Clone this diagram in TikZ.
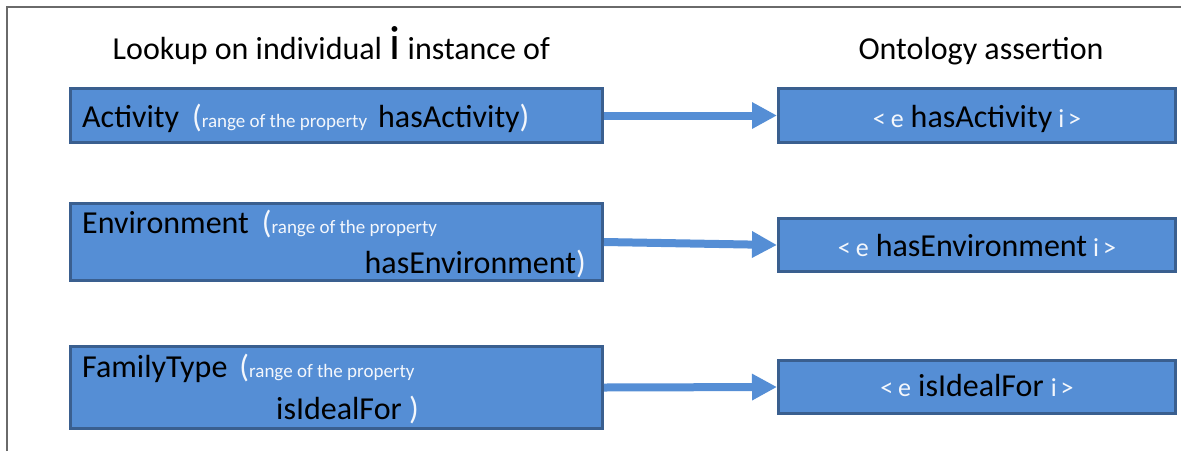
\documentclass[tikz,border=0pt]{standalone}
\usepackage{fontspec}
\setmainfont{Carlito}
\usetikzlibrary{arrows.meta}

\definecolor{boxfill}{HTML}{558ED5}
\definecolor{boxline}{HTML}{3A5F8F}
\definecolor{framegray}{HTML}{6A6A6A}
\definecolor{soft}{HTML}{F4F7FC}

% type sizes
\newcommand{\bigtxt}{\fontsize{32pt}{36pt}\selectfont}
\newcommand{\smtxt}{\fontsize{19pt}{22pt}\selectfont}
\newcommand{\midtxt}{\fontsize{26pt}{30pt}\selectfont}
\newcommand{\hugetxt}{\fontsize{48pt}{50pt}\selectfont}
\newcommand{\lparen}{{\color{soft}\bigtxt(}}
\newcommand{\rparen}{{\color{soft}\bigtxt)}}
\newcommand{\rangenote}[1]{{\color{soft}\smtxt #1}}
\newcommand{\asrtag}[1]{{\color{soft}\midtxt #1}}

\tikzset{
  box/.style={draw=boxline, fill=boxfill, line width=3pt, inner sep=0pt},
  label/.style={anchor=base west, inner sep=0pt, text=black, font=\bigtxt},
  heading/.style={anchor=base, inner sep=0pt, text=black, font=\bigtxt},
  link/.style={draw=boxfill, line width=8pt,
    -{Triangle[length=25pt, width=25pt]}},
  frame/.style={draw=framegray, line width=1.2pt}
}

\begin{document}
\begin{tikzpicture}[x=1pt, y=-1pt]
\useasboundingbox (0,0) rectangle (1181,451);

% page frame
\draw[frame] (7,451) -- (7,7) -- (1181,7);

% column headings
\node[anchor=base west, inner sep=0pt, font=\bigtxt] (hleft) at (112.5,59)
  {Lookup on individual {\hugetxt i} instance of};
\node[heading] (hright) at (981,59) {Ontology assertion};

% left column: looked-up classes
\node[box, minimum width=532pt, minimum height=54pt] (act) at (336.5,115.5) {};
\node[box, minimum width=532pt, minimum height=77pt] (env) at (336.5,242) {};
\node[box, minimum width=532pt, minimum height=82pt] (fam) at (336.5,387.5) {};

% right column: resulting assertions
\node[box, minimum width=397pt, minimum height=54pt] (aact) at (977,115.5) {};
\node[box, minimum width=397pt, minimum height=53pt] (aenv) at (977,245) {};
\node[box, minimum width=397pt, minimum height=53pt] (afam) at (977,387) {};

% arrows
\draw[link] (act.east) -- (aact.west);
\draw[link] (env.east) -- (aenv.west);
\draw[link] (fam.east) -- (afam.west);

% left box texts
\node[label] (tact) at (82,127)
  {Activity\hspace{13pt}\lparen\rangenote{range of the property}\hspace{11pt}hasActivity\rparen};
\node[label] (tenv) at (82,233)
  {Environment\hspace{13pt}\lparen\rangenote{range of the property}};
\node[label, anchor=base east] (tenv2) at (586,273) {hasEnvironment\rparen};
\node[label] (tfam) at (82,377)
  {FamilyType\hspace{12pt}\lparen\rangenote{range of the property}};
\node[label] (tfam2) at (276,419) {isIdealFor \rparen};

% right box texts
\node[heading] (taact) at (977,127)
  {\asrtag{<\hspace{5pt}e}\hspace{7pt}hasActivity\hspace{6pt}\asrtag{i\hspace{4pt}>}};
\node[heading] (taenv) at (977,256)
  {\asrtag{<\hspace{5pt}e}\hspace{7pt}hasEnvironment\hspace{6pt}\asrtag{i\hspace{4pt}>}};
\node[heading] (tafam) at (977,396)
  {\asrtag{<\hspace{5pt}e}\hspace{7pt}isIdealFor\hspace{7pt}\asrtag{i\hspace{4pt}>}};
\end{tikzpicture}
\end{document}
